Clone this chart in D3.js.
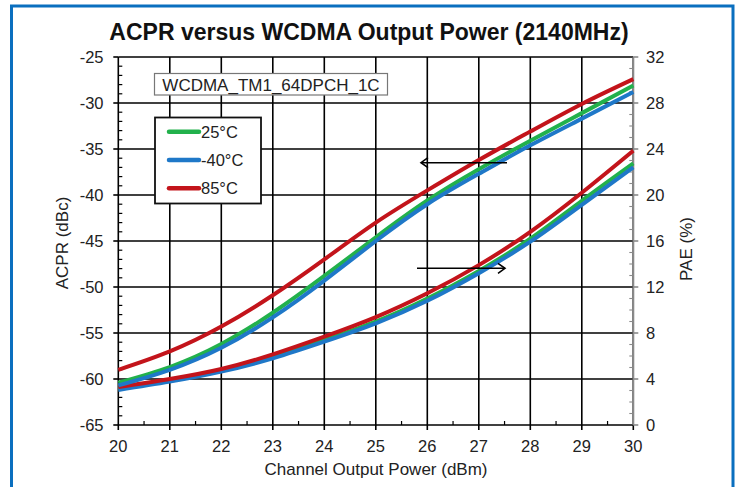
<!DOCTYPE html>
<html><head><meta charset="utf-8">
<script src="https://cdn.jsdelivr.net/npm/d3@7"></script>
<style>
html,body{margin:0;padding:0;background:#fff;}
svg{display:block;font-family:"Liberation Sans",Arial,sans-serif;}
</style></head>
<body>
<svg id="c" width="740" height="487"></svg>
<script>
// ---- data ----
const power = [20,21,22,23,24,25,26,27,28,29,30];
const acpr25  = [-60.4,-58.7,-56.2,-52.8,-48.8,-44.6,-40.6,-37.2,-34.1,-31.1,-28.1];
const acprM40 = [-60.7,-59.0,-56.6,-53.3,-49.3,-45.0,-41.0,-37.7,-34.6,-31.7,-28.8];
const acpr85  = [-59.0,-57.0,-54.3,-50.9,-47.0,-43.0,-39.5,-36.2,-33.1,-30.1,-27.4];
const pae25   = [3.15,3.88,4.75,5.95,7.4,9.0,11.0,13.4,16.2,19.5,22.75];
const paeM40  = [3.04,3.77,4.64,5.8,7.25,8.84,10.8,13.2,15.94,19.15,22.4];
const pae85   = [3.3,4.0,4.87,6.14,7.68,9.38,11.45,13.9,16.8,20.2,23.86];
const xTicks = [20,21,22,23,24,25,26,27,28,29,30];
const yLeftTicks = [-65,-60,-55,-50,-45,-40,-35,-30,-25];
const yRightTicks = [0,4,8,12,16,20,24,28,32];
const seriesNames = ["25°C","-40°C","85°C"];
const seriesColors = ["#22b14c","#1f78c8","#c3141b"];
const titleText = "ACPR versus WCDMA Output Power (2140MHz)";
const noteText = "WCDMA_TM1_64DPCH_1C";

const svg = d3.select("#c");
const L=118.3, R=633.3, T=57, B=425;
const x = d3.scaleLinear().domain([20,30]).range([L,R]);
const yL = d3.scaleLinear().domain([-65,-25]).range([B,T]);
const yR = d3.scaleLinear().domain([0,32]).range([B,T]);

// outer blue frame
svg.append("path").attr("d",`M11.5,490 V6 H733 V490`).attr("fill","none")
  .attr("stroke","#0a6fbf").attr("stroke-width",3);

// title
svg.append("text").attr("x",369).attr("y",40).attr("text-anchor","middle")
  .attr("font-size",23).attr("font-weight","bold").attr("fill","#111").text(titleText);

// grid
const g = svg.append("g");
xTicks.forEach(v=>{
  g.append("line").attr("x1",x(v)).attr("x2",x(v)).attr("y1",T).attr("y2",B)
   .attr("stroke","#000").attr("stroke-width",1.6);
});
yLeftTicks.forEach(v=>{
  g.append("line").attr("x1",L).attr("x2",R).attr("y1",yL(v)).attr("y2",yL(v))
   .attr("stroke","#000").attr("stroke-width",1.6);
});

// left axis minor ticks
d3.range(-65,-24,1).forEach(v=>{
  if(v%5!==0) g.append("line").attr("x1",L).attr("x2",L+4).attr("y1",yL(v)).attr("y2",yL(v)).attr("stroke","#000").attr("stroke-width",1.2);
  else g.append("line").attr("x1",L-5).attr("x2",L).attr("y1",yL(v)).attr("y2",yL(v)).attr("stroke","#000").attr("stroke-width",1.6);
});
// bottom minor ticks
d3.range(20.5,30,1).forEach(v=>{
  g.append("line").attr("x1",x(v)).attr("x2",x(v)).attr("y1",B).attr("y2",B-4).attr("stroke","#000").attr("stroke-width",1.2);
});
xTicks.forEach(v=>{
  g.append("line").attr("x1",x(v)).attr("x2",x(v)).attr("y1",B).attr("y2",B+5).attr("stroke","#000").attr("stroke-width",1.6);
});
// right axis (gray)
g.append("line").attr("x1",R).attr("x2",R).attr("y1",T).attr("y2",B).attr("stroke","#8a8a8a").attr("stroke-width",1.6);
d3.range(0,33,1).forEach(v=>{
  if(v%4!==0) g.append("line").attr("x1",R-4).attr("x2",R).attr("y1",yR(v)).attr("y2",yR(v)).attr("stroke","#8a8a8a").attr("stroke-width",1.1);
  else g.append("line").attr("x1",R).attr("x2",R+5).attr("y1",yR(v)).attr("y2",yR(v)).attr("stroke","#8a8a8a").attr("stroke-width",1.6);
});

// tick labels
const lab = svg.append("g").attr("font-size",16.5).attr("fill","#222");
yLeftTicks.forEach(v=>{
  lab.append("text").attr("x",103.5).attr("y",yL(v)+6).attr("text-anchor","end").text(v);
});
yRightTicks.forEach(v=>{
  lab.append("text").attr("x",646).attr("y",yR(v)+6).attr("text-anchor","start").text(v);
});
xTicks.forEach(v=>{
  lab.append("text").attr("x",x(v)).attr("y",451.5).attr("text-anchor","middle").text(v);
});

// axis titles
svg.append("text").attr("x",376).attr("y",475).attr("text-anchor","middle").attr("font-size",17).attr("fill","#222").text("Channel Output Power (dBm)");
svg.append("text").attr("transform","translate(68,243) rotate(-90)").attr("text-anchor","middle").attr("font-size",17).attr("fill","#222").text("ACPR (dBc)");
svg.append("text").attr("transform","translate(692,249) rotate(-90)").attr("text-anchor","middle").attr("font-size",17).attr("fill","#222").text("PAE (%)");

// curves
const lineL = d3.line().x((d,i)=>x(power[i])).y(d=>yL(d)).curve(d3.curveNatural);
const lineR = d3.line().x((d,i)=>x(power[i])).y(d=>yR(d)).curve(d3.curveNatural);
const acprSets=[acpr25,acprM40,acpr85], paeSets=[pae25,paeM40,pae85];
[0,1,2].forEach(k=>{
  svg.append("path").datum(paeSets[k]).attr("d",lineR).attr("fill","none").attr("stroke",seriesColors[k]).attr("stroke-width",4);
});
[0,1,2].forEach(k=>{
  svg.append("path").datum(acprSets[k]).attr("d",lineL).attr("fill","none").attr("stroke",seriesColors[k]).attr("stroke-width",4);
});

// arrows
function arrow(x1,x2,yy){
  svg.append("line").attr("x1",x1).attr("x2",x2).attr("y1",yy).attr("y2",yy).attr("stroke","#000").attr("stroke-width",1.6);
  const d = x2<x1?1:-1;
  svg.append("path").attr("d",`M${x2+d*7},${yy-5} L${x2},${yy} L${x2+d*7},${yy+5}`).attr("fill","none").attr("stroke","#000").attr("stroke-width",1.6);
}
arrow(507,421,162.7);
arrow(417,505,268.3);

// note box
svg.append("rect").attr("x",154.5).attr("y",73.5).attr("width",233).attr("height",21.5).attr("fill","#fff").attr("stroke","#777").attr("stroke-width",1.2);
svg.append("text").attr("x",271).attr("y",90.5).attr("text-anchor","middle").attr("font-size",17).attr("fill","#222").text(noteText);

// legend
svg.append("rect").attr("x",155).attr("y",117.5).attr("width",106).attr("height",86).attr("fill","#fff").attr("stroke","#111").attr("stroke-width",1.8);
seriesNames.forEach((n,i)=>{
  const yy = 131.7 + i*28.3;
  svg.append("line").attr("x1",169).attr("x2",199).attr("y1",yy).attr("y2",yy).attr("stroke",seriesColors[i]).attr("stroke-width",4.5).attr("stroke-linecap","round");
  svg.append("text").attr("x",201).attr("y",yy+6).attr("font-size",16.5).attr("fill","#222").text(n);
});
</script>
</body></html>
